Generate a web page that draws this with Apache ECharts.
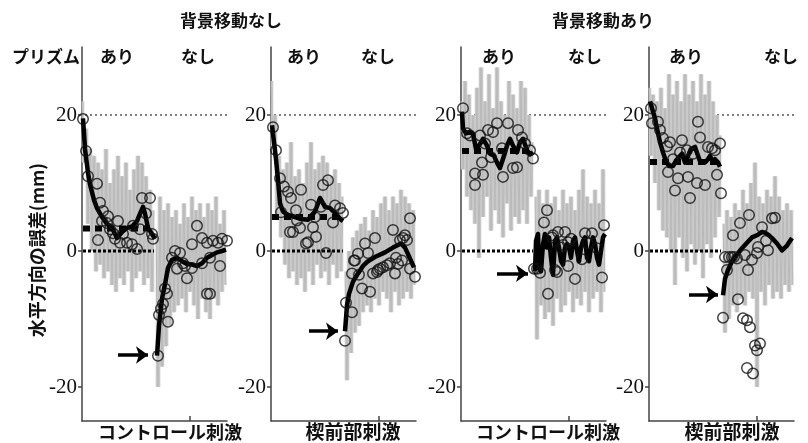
<!DOCTYPE html>
<html><head><meta charset="utf-8">
<script src="https://cdn.jsdelivr.net/npm/echarts@6/dist/echarts.min.js"></script>
<style>html,body{margin:0;padding:0;background:#fff}#c{width:808px;height:443px}</style>
</head><body><div id="c"></div><script>
// ---- tick labels ----
const yTicks = [-20, 0, 20];
const phaseLabels = ['あり', 'なし'];
const groupTitles = ['背景移動なし', '背景移動あり'];
const xTitles = ['コントロール刺激', '楔前部刺激', 'コントロール刺激', '楔前部刺激'];
const yTitle = '水平方向の誤差(mm)';
const prismLabel = 'プリズム';

// ---- panel 1 ----
const p1MeanA = [[1,19.5],[3,15],[6,11.5],[8,9.8],[12,7.5],[15,6.3],[20,5],[25,4],[30,3.4],[35,1.9],[40,2.8],[45,3.4],[50,3.6],[55,4.4],[58,5.5],[61,6.5],[63,5.5],[66,3.4],[70,2.5],[73,1.8]];
const p1MeanN = [[75,-15.4],[77,-11],[80,-7],[83,-4.9],[86,-2.5],[90,-1.3],[95,-1],[100,-1.5],[105,-1.9],[110,-2],[115,-2.2],[120,-1.8],[125,-1],[130,-0.6],[135,-0.2],[140,0],[144,0.2]];
const p1Circles = [[1,19.4],[4,14.7],[6,11],[15,9.9],[18,7.1],[21,5.9],[26,5.1],[20,4.4],[25,4.1],[36,4.4],[28,3.2],[31,2.6],[41,2.5],[45,1.2],[50,1.0],[55,0.3],[16,1.6],[33,1.8],[51,3.7],[58,3.2],[60,7.8],[68,7.8],[70,2.5],[71,1.8],[64,5.5],[38,1.2],
  [76,-15.4],[77,-9.4],[81,-7.8],[86,-10.4],[85,-6.3],[93,0],[98,-0.3],[90,-1],[101,-1.8],[95,-2.6],[105,-4],[110,-2.5],[110,1],[115,3.7],[120,1.9],[125,1.2],[131,1.5],[136,1.2],[140,1.8],[145,1.5],[120,-1.8],[128,-1],[138,-2.2],[128,-6.3],[125,-6.3],[103,-2.2],[83,-5.5],[79,-8.5]];
const p1GrayA = [22,13,18,4,15,0,14,-3,13,-2,12,-4,15,-3,10,-5,12,-6,14,-4,11,-5,13,-3,9,-6,12,-4,14,-3,13,-5,11,-4,9,-6,6];
const p1GrayN = [2,-20,8,-17,6,-14,7,-11,5,-9,6,-8,4,-7,7,-9,5,-6,8,-8,6,-10,7,-7,5,-9,7,-10,6,-7,8,-8,4,-6,6,-5];

// ---- panel 2 ----
const p2MeanA = [[1,18.5],[3,16],[5,13.5],[7,10.5],[9,7],[12,5.8],[17,5.3],[24,5],[30,4.7],[37,4.6],[44,5.8],[49,7.8],[54,6.5],[59,6.3],[64,5.6],[70,4.6],[72,4.4]];
const p2MeanN = [[74,-11.8],[76,-8],[78,-6.3],[82,-4.5],[87,-3.3],[92,-2.2],[97,-1.5],[105,-0.8],[114,-0.2],[122,0.5],[130,1.1],[134,0.5],[138,-0.8],[143,-2.4]];
const p2Circles = [[2,18.2],[5,14.8],[9,10.7],[10,5.7],[17,8.7],[20,7.8],[19,2.8],[22,2.8],[25,6.0],[26,4.5],[29,3.4],[30,9.0],[35,1.1],[37,1.3],[42,3.5],[44,5],[45,2.1],[50,6.5],[52,9.7],[57,10.4],[55,-0.3],[62,4.2],[64,6.7],[69,6.3],[72,5.6],[13,9.5],[40,6.8],
  [74,-13.2],[75,-7.6],[81,-9.0],[81,-3.3],[83,-1.4],[87,-0.4],[91,-5.5],[99,-6.0],[102,-3.3],[106,-3.1],[109,-2.6],[112,-2.4],[116,-2.1],[119,-1.8],[124,-3.3],[127,-1.9],[131,-1.4],[136,1.6],[139,-2.6],[144,-3.8],[94,1.1],[104,1.9],[122,3.1],[134,2.3],[139,4.8],[97,-0.3],[107,-2.8],[125,-1],[129,1.6],[132,1.9],[84,-1.4],[88,-3.5]];
const p2GrayA = [25,15,20,5,14,2,12,-2,13,-4,16,-3,11,-5,12,-4,10,-6,13,-3,16,-5,12,-2,13,-4,14,-3,13,-5,11,-2,12,-4,10,-3,8];
const p2GrayN = [-3,-19,0,-15,2,-12,3,-11,4,-9,5,-8,3,-9,6,-7,5,-8,7,-6,8,-7,6,-9,8,-6,7,-8,9,-7,8,-6,7,-7,6,-5];

// ---- panel 3 ----
const p3MeanA = [[1,20.5],[2,18],[5,17.3],[9,17.5],[12,17.2],[15,15],[18,15.5],[22,16.5],[26,15.5],[29,14.3],[33,14],[36,13],[39,12.2],[43,14],[46,15.5],[49,16.5],[52,15.5],[56,14.5],[59,16],[62,16.5],[66,14.8],[69,14.2],[72,14.5]];
const p3MeanN = [[74,-3],[75,1.5],[77,2.5],[78,-2.5],[80,-3],[82,1],[84,2.5],[86,0.5],[88,2],[90,-1],[92,-3.5],[94,1.5],[96,2],[98,0.5],[100,-1.5],[102,-2],[104,0.5],[106,1],[108,0.5],[110,-1],[112,1.5],[114,2],[116,0],[118,-1.5],[120,0.5],[122,1.5],[124,2],[126,-1],[128,-1.5],[130,0.5],[132,2],[134,1],[136,-1],[138,-2],[140,0],[142,2],[144,2.5]];
const p3Circles = [[2,21],[9,17],[14,11.4],[14,9.7],[19,17],[22,11.2],[21,13],[27,17.8],[30,13.8],[32,17.5],[36,18.8],[41,15.1],[42,10.9],[47,18.8],[52,12.2],[56,12.3],[57,17.8],[61,16.7],[64,15.8],[69,14.8],[72,13.6],[6,17.3],[24,15.8],
  [73,-2.6],[76,-2.6],[79,-3.2],[83,4.2],[86,6.0],[87,-6.3],[91,2.0],[92,2.3],[94,-2.8],[96,-3.1],[97,2.8],[102,0.9],[104,2.8],[107,1.3],[107,-2.2],[114,-4.1],[121,-1.2],[124,2.6],[127,1.1],[131,2.6],[136,0.4],[141,-3.9],[143,3.8],[110,1.8],[100,0.5]];
const p3GrayA = [22,12,25,8,23,6,20,4,24,-1,27,5,22,8,26,3,21,6,27,4,22,2,20,7,25,3,23,5,21,4,25,6,24,4,20,8,16];
const p3GrayN = [8,-13,9,-8,7,-10,9,-9,7,-11,8,-7,6,-9,9,-8,7,-6,8,-9,6,-7,9,-8,12,-6,8,-9,7,-7,9,-6,7,-9,12,-6];

// ---- panel 4 ----
const p4MeanA = [[1,22],[3,21],[6,19.5],[8,18],[11,16],[14,14.5],[17,13.2],[20,12.5],[24,12.5],[28,13.5],[33,14.3],[36,13],[39,14],[42,15],[46,15.3],[49,14],[51,13.2],[56,13],[59,13.5],[61,14],[64,13],[66,13.5],[69,13],[71,12.4]];
const p4MeanN = [[74,-6.5],[76,-4.1],[79,-2.8],[83,-1.5],[88,-0.5],[93,0.4],[98,1.2],[103,2.0],[109,2.4],[113,2.8],[116,2.7],[120,2.3],[123,1.9],[128,1.1],[133,0.1],[138,0.8],[143,1.9]];
const p4Circles = [[2,21],[3,18.8],[9,19],[11,17.8],[14,16.6],[18,15.4],[21,16],[19,11.6],[26,8.9],[29,10.7],[31,14.5],[33,16.3],[38,14.8],[39,10.9],[41,7.8],[44,14.3],[48,10],[49,19],[51,16.7],[56,9.7],[59,15.3],[63,15.1],[66,14.8],[68,11.2],[71,15.8],[72,8.5],[24,13.5],
  [74,-9.8],[76,-0.9],[78,-2.8],[80,-0.9],[83,-0.9],[84,2.3],[85,-0.9],[88,-1.1],[89,-7.1],[91,4.1],[94,-9.9],[96,-0.6],[98,-10.2],[99,-2.8],[100,5.3],[101,-11.2],[103,-1.3],[106,-13.9],[108,-14.6],[111,-13.6],[98,-17.2],[104,-18],[109,0.6],[113,3.5],[119,0.1],[123,4.8],[126,4.9],[117,1.5],[108,-0.3]];
const p4GrayA = [24,14,23,10,22,6,24,3,21,2,26,0,23,-5,25,2,22,-1,26,-3,23,1,25,-2,22,0,26,-4,23,1,25,-1,22,2,20,5,17];
const p4GrayN = [4,-12,6,-10,5,-8,7,-9,6,-7,9,-8,7,-6,10,-7,13,-20,8,-6,7,-8,9,-5,8,-7,11,-6,8,-7,6,-5,7,-6,6,-5];

// ---- per-panel levels / arrows ----
const levels = [3.3, 5.0, 14.7, 13.1];
const arrowY = [-15.3, -11.8, -3.3, -6.4];
const arrowX0 = [36, 38, 36, 40];
const arrowX1 = [66, 67, 67, 69];

const panels = [
  {meanA:p1MeanA, meanN:p1MeanN, circles:p1Circles, grayA:p1GrayA, grayN:p1GrayN},
  {meanA:p2MeanA, meanN:p2MeanN, circles:p2Circles, grayA:p2GrayA, grayN:p2GrayN},
  {meanA:p3MeanA, meanN:p3MeanN, circles:p3Circles, grayA:p3GrayA, grayN:p3GrayN},
  {meanA:p4MeanA, meanN:p4MeanN, circles:p4Circles, grayA:p4GrayA, grayN:p4GrayN}
];

// layout
const gridLefts = [82, 271, 461, 649];
const GW = 145, GTOP = 47, GH = 374;
const phaseEnd = 72, phaseStart = 74, xMax = 145;

const grids = [], xAxes = [], yAxes = [], series = [];
panels.forEach((p, i) => {
  grids.push({left: gridLefts[i], top: GTOP, width: GW, height: GH});
  xAxes.push({gridIndex: i, type: 'value', min: 0, max: xMax,
    axisLine: {onZero: false, lineStyle: {color: '#444', width: 1.5}},
    axisTick: {show: true, inside: true, length: 5, customValues: [108], lineStyle: {color: '#444', width: 1.5}},
    axisLabel: {show: false}, splitLine: {show: false}});
  yAxes.push({gridIndex: i, type: 'value', min: -25, max: 30,
    axisLine: {show: true, onZero: false, lineStyle: {color: '#444', width: 1.5}},
    axisTick: {show: true, length: 4, customValues: yTicks, lineStyle: {color: '#444', width: 1.5}},
    axisLabel: {customValues: yTicks, fontFamily: '"Liberation Serif", "DejaVu Serif", serif', fontSize: 21, color: '#111', margin: 5},
    splitLine: {show: false}});
  const base = {xAxisIndex: i, yAxisIndex: i, silent: true, animation: false};
  // reference line at 20
  series.push(Object.assign({}, base, {type: 'line', z: 1, symbol: 'none',
    data: [[3, 20], [xMax, 20]], lineStyle: {color: '#000', width: 1.2, type: [2, 3]}}));
  // gray trial traces: filled spikes between successive trace values + thin streak line
  const gA = p.grayA.map((v, k) => [k * 2, v]);
  const gN = p.grayN.map((v, k) => [phaseStart + k * 2, v]);
  [gA, gN].forEach(g => {
    series.push(Object.assign({}, base, {type: 'custom', coordinateSystem: 'cartesian2d', z: 2,
      encode: {x: 0, y: 1}, data: g,
      renderItem: function (params, api) {
        const k = params.dataIndex;
        if (k >= g.length - 1) return null;
        const a = api.coord(g[k]), b = api.coord(g[k + 1]);
        return {type: 'rect', shape: {x: a[0] - 0.3, y: Math.min(a[1], b[1]), width: b[0] - a[0] + 0.6, height: Math.abs(b[1] - a[1])},
          style: {fill: '#c9c9c9'}};
      }}));
    series.push(Object.assign({}, base, {type: 'line', z: 2, symbol: 'none',
      data: g, lineStyle: {color: '#b3b3b3', width: 0.7}}));
  });
  // zero line (prism phase)
  series.push(Object.assign({}, base, {type: 'line', z: 3, symbol: 'none',
    data: [[1, 0], [phaseEnd, 0]], lineStyle: {color: '#000', width: 3, type: [3, 2]}}));
  // level line
  series.push(Object.assign({}, base, {type: 'line', z: 3, symbol: 'none',
    data: [[1, levels[i]], [phaseEnd, levels[i]]], lineStyle: {color: '#000', width: 6, type: [7, 5]}}));
  // mean lines
  series.push(Object.assign({}, base, {type: 'line', z: 4, symbol: 'none',
    data: p.meanA, lineStyle: {color: '#000', width: 4.5, join: 'round'}}));
  series.push(Object.assign({}, base, {type: 'line', z: 4, symbol: 'none',
    data: p.meanN, lineStyle: {color: '#000', width: 4.5, join: 'round'},
    markLine: {silent: true, symbol: ['none', 'arrow'], symbolSize: [13, 12], label: {show: false},
      lineStyle: {color: '#000', width: 3.5, type: 'solid'},
      data: [[{coord: [arrowX0[i], arrowY[i]]}, {coord: [arrowX1[i], arrowY[i]]}]]}}));
  // circles
  series.push(Object.assign({}, base, {type: 'scatter', z: 5, symbol: 'circle', symbolSize: 10.5,
    data: p.circles, itemStyle: {color: 'rgba(0,0,0,0)', borderColor: '#111', borderWidth: 1.5}}));
});

const FONT = '"Noto Sans CJK JP", sans-serif';
function txt(t, x, y, size, extra) {
  return Object.assign({type: 'text', x: x, y: y, silent: true,
    style: {text: t, fill: '#111', font: 'bold ' + size + 'px ' + FONT, textAlign: 'center', textVerticalAlign: 'middle'}}, extra || {});
}
const graphics = [
  txt(groupTitles[0], 231, 21, 17),
  txt(groupTitles[1], 603, 21, 17),
  txt(prismLabel, 46, 57, 17),
  txt(phaseLabels[0], 117, 57, 17), txt(phaseLabels[1], 198, 57, 17),
  txt(phaseLabels[0], 304, 57, 17), txt(phaseLabels[1], 378, 57, 17),
  txt(phaseLabels[0], 499, 57, 17), txt(phaseLabels[1], 585, 57, 17),
  txt(phaseLabels[0], 686, 57, 17), txt(phaseLabels[1], 781, 57, 17),
  txt(xTitles[0], 170, 432, 18), txt(xTitles[1], 353, 432, 19),
  txt(xTitles[2], 548, 432, 18), txt(xTitles[3], 732, 432, 19),
  txt(yTitle, 37, 250, 18, {rotation: Math.PI / 2})
];

const chart = echarts.init(document.getElementById('c'), null, {renderer: 'canvas'});
chart.setOption({animation: false, backgroundColor: '#fff', grid: grids, xAxis: xAxes, yAxis: yAxes, series: series, graphic: graphics});
</script></body></html>
